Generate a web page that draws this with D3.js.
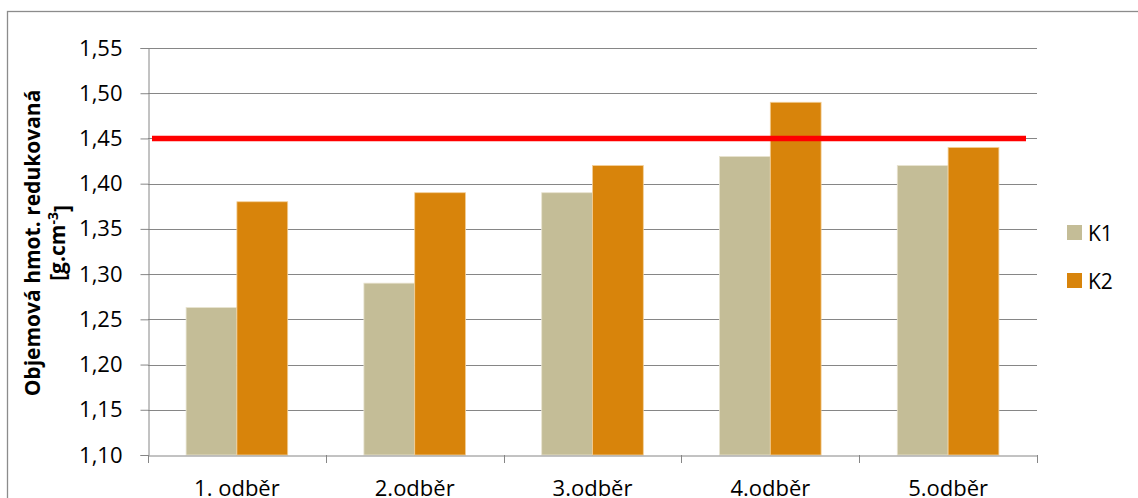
<!DOCTYPE html>
<html>
<head>
<meta charset="utf-8">
<script src="https://cdn.jsdelivr.net/npm/d3@7"></script>
<style>
  html, body { margin: 0; padding: 0; background: #fff; }
  svg { display: block; }
  text { font-family: "Open Sans", sans-serif; fill: #000; }
</style>
</head>
<body>
<svg id="chart" width="1138" height="498"></svg>
<script>
// Sampling rounds and bulk density per variant
const categories = ["1. odběr", "2.odběr", "3.odběr", "4.odběr", "5.odběr"];
const seriesNames = ["K1", "K2"];
const k1Values = [1.263, 1.29, 1.39, 1.43, 1.42];
const k2Values = [1.38, 1.39, 1.42, 1.49, 1.44];
const limitValue = 1.45;
const yTicks = [1.10, 1.15, 1.20, 1.25, 1.30, 1.35, 1.40, 1.45, 1.50, 1.55];
const seriesColors = ["#C4BD97", "#D8840B"];

const FONT = "'Open Sans', sans-serif";
const svg = d3.select("#chart");
const margin = { left: 148, right: 1037, top: 48, bottom: 455 };

// outer chart frame
svg.append("rect")
  .attr("x", 7.5).attr("y", 11.5)
  .attr("width", 1140).attr("height", 500)
  .attr("fill", "none").attr("stroke", "#8c8c8c").attr("stroke-width", 1.3);

const x = d3.scaleBand().domain(categories).range([margin.left, margin.right]);
const x1 = d3.scaleBand().domain(seriesNames)
  .range([0, x.bandwidth()]).paddingOuter(0.75);
const y = d3.scaleLinear().domain([1.10, 1.55]).range([margin.bottom, margin.top]);

// horizontal gridlines
svg.append("g").selectAll("line").data(yTicks.slice(1)).join("line")
  .attr("x1", margin.left).attr("x2", margin.right)
  .attr("y1", d => Math.round(y(d)) + 0.5).attr("y2", d => Math.round(y(d)) + 0.5)
  .attr("stroke", "#868686").attr("stroke-width", 1);

// bars
const data = categories.map((c, i) => ({ c, vals: [k1Values[i], k2Values[i]] }));
const groups = svg.append("g").selectAll("g").data(data).join("g")
  .attr("transform", d => `translate(${x(d.c)},0)`);
groups.selectAll("rect").data(d => d.vals.map((v, j) => ({ v, s: seriesNames[j], j })))
  .join("rect")
  .attr("x", d => x1(d.s))
  .attr("width", x1.bandwidth())
  .attr("y", d => y(d.v))
  .attr("height", d => y(1.10) - y(d.v))
  .attr("fill", d => seriesColors[d.j])
  .attr("stroke", d => d.j === 0 ? "#e8e3cf" : "#f3cf98")
  .attr("stroke-width", 0.8);

// y axis
const yAxis = d3.axisLeft(y).tickValues(yTicks).tickSize(8).tickPadding(18)
  .tickFormat(d => d3.format(".2f")(d).replace(".", ","));
const gy = svg.append("g").attr("transform", `translate(${margin.left + 0.5},0)`).call(yAxis);
gy.select(".domain").attr("stroke", "#868686");
gy.selectAll(".tick line").attr("stroke", "#868686");
gy.selectAll(".tick text").attr("font-size", 22).attr("fill", "#000")
  .attr("font-family", FONT);

// x axis
const xAxis = d3.axisBottom(x).tickSize(0).tickPadding(25);
const gx = svg.append("g").attr("transform", `translate(0,${margin.bottom + 0.5})`).call(xAxis);
gx.select(".domain").attr("stroke", "#868686");
gx.selectAll(".tick text").attr("font-size", 22).attr("fill", "#000")
  .attr("font-family", FONT);
// category boundary ticks
svg.append("g").selectAll("line")
  .data(categories.map(c => x(c)).concat([margin.right]))
  .join("line")
  .attr("x1", d => Math.round(d) + 0.5).attr("x2", d => Math.round(d) + 0.5)
  .attr("y1", margin.bottom).attr("y2", margin.bottom + 8)
  .attr("stroke", "#868686");

// limit line
svg.append("line")
  .attr("x1", margin.left + 4).attr("x2", margin.right - 11)
  .attr("y1", y(limitValue)).attr("y2", y(limitValue))
  .attr("stroke", "#FF0000").attr("stroke-width", 5.5);

// y axis title
const title = svg.append("text")
  .attr("transform", "rotate(-90)")
  .attr("text-anchor", "middle")
  .attr("font-size", 21).attr("font-weight", "bold");
title.append("tspan").attr("x", -243).attr("y", 40).text("Objemová hmot. redukovaná");
const l2 = title.append("tspan").attr("x", -243).attr("y", 65);
l2.append("tspan").text("[g.cm");
l2.append("tspan").attr("dy", "-0.5em").attr("font-size", 14).text("-3");
l2.append("tspan").attr("dy", "0.5em").text("]");

// legend
const legend = svg.append("g").attr("transform", "translate(1067,225)");
seriesNames.forEach((name, i) => {
  const g = legend.append("g").attr("transform", `translate(0,${i * 48})`);
  g.append("rect").attr("width", 15).attr("height", 15).attr("fill", seriesColors[i]);
  g.append("text").attr("x", 21).attr("y", 16).attr("font-size", 21).text(name);
});
</script>
</body>
</html>
